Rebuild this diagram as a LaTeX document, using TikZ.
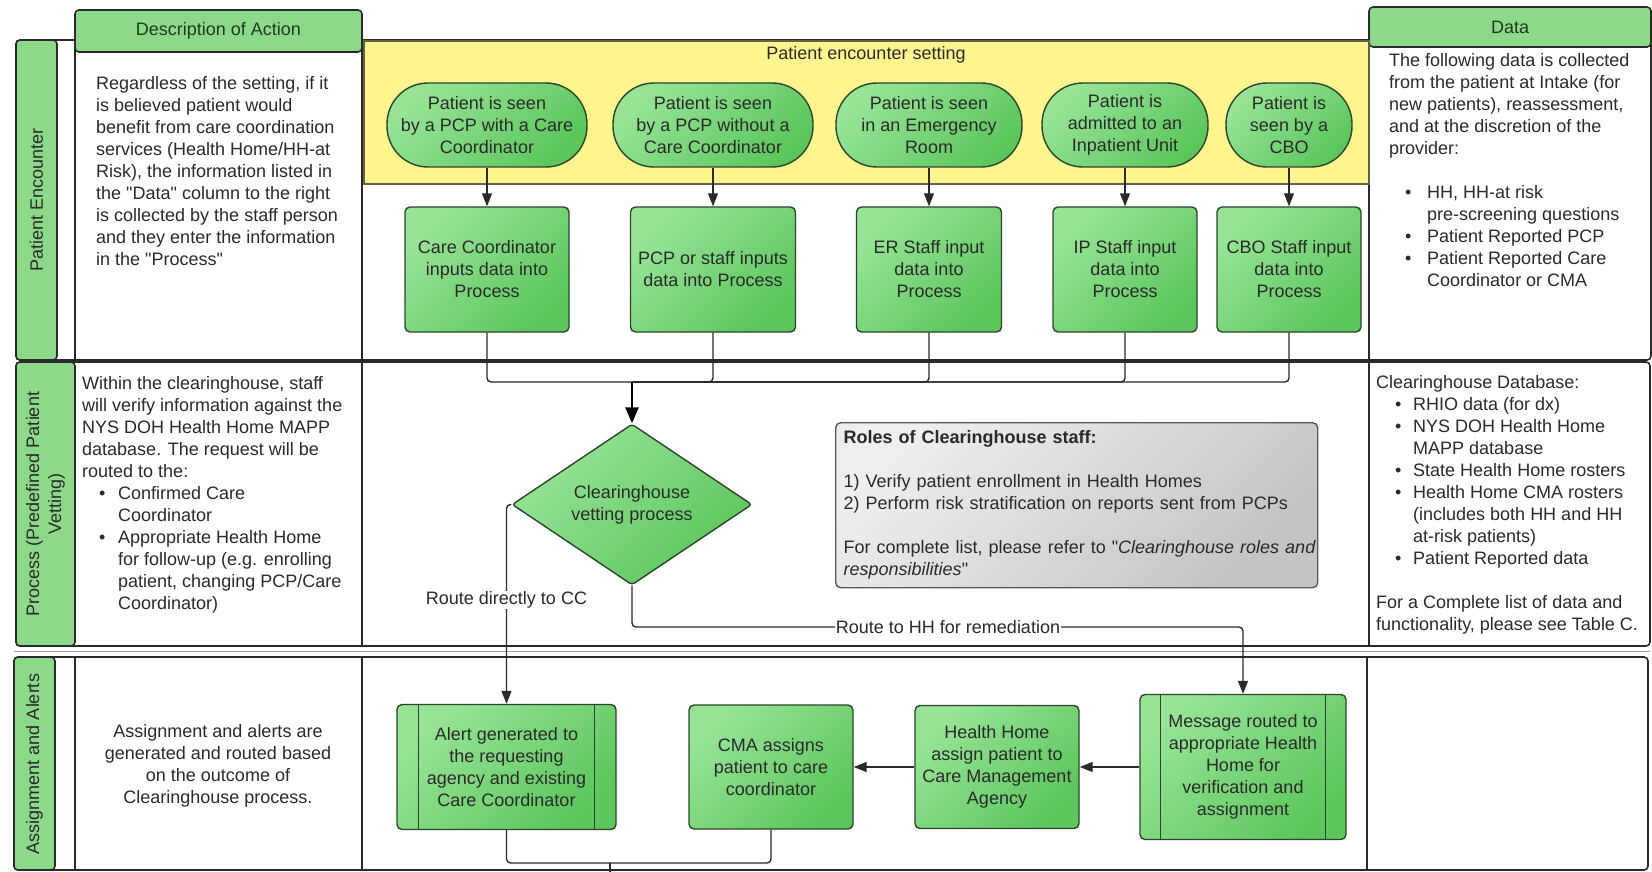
\documentclass[tikz,border=0pt]{standalone}
\usepackage{fontspec}
\setmainfont{Liberation Sans}[Ligatures=TeXOff]
\usetikzlibrary{arrows.meta,shapes.geometric,calc}
\definecolor{gnLight}{HTML}{97E497}
\definecolor{gnDark}{HTML}{5CC65C}
\definecolor{gnBorder}{HTML}{2C452C}
\definecolor{laneGreen}{HTML}{8CD98A}
\definecolor{yelFill}{HTML}{FFF58E}
\definecolor{grayL}{HTML}{EEEEEE}
\definecolor{grayD}{HTML}{C4C4C4}
\definecolor{txtC}{HTML}{2A2A2A}
\definecolor{lineC}{HTML}{2A2A2A}
\definecolor{sepC}{HTML}{9A9A9A}
\definecolor{hdrTxt}{HTML}{1F3A1F}
\newcommand{\qq}{\symbol{34}}
\tikzset{
  base/.style={font=\fontsize{18}{22}\selectfont, text=txtC},
  gnode/.style={base, draw=gnBorder, line width=1.4pt, top color=gnLight, bottom color=gnDark, shading angle=45, rounded corners=5pt, inner sep=0pt, align=center},
  pill/.style={gnode, rounded corners=41pt, minimum height=84pt},
  procbox/.style={gnode, minimum height=125pt, minimum width=#1},
  decision/.style={gnode, diamond, aspect=1.5, rounded corners=3pt, minimum width=240pt, minimum height=161pt},
  rolesbox/.style={base, draw=black!65, line width=1.4pt, top color=grayL, bottom color=grayD, shading angle=45, rounded corners=5pt, align=left, text width=466pt, inner xsep=8pt, inner ysep=0pt, minimum height=165pt, anchor=north west},
  conn/.style={draw=lineC, line width=1.4pt, rounded corners=4pt},
  arr/.style={draw=lineC, line width=1.4pt, -{Triangle[length=13pt,width=10pt]}},
  arrc/.style={arr, rounded corners=4pt},
  bigarr/.style={draw=black, line width=2.6pt, -{Triangle[length=16pt,width=13pt]}},
  lbl/.style={base, fill=white, inner sep=1pt},
  desc/.style={base, align=left, inner sep=0pt, anchor=north west},
  lanebox/.style={draw=lineC, line width=1.6pt, rounded corners=4pt},
  strip/.style={draw=lineC, line width=1.6pt, fill=laneGreen, rounded corners=4pt},
  striplbl/.style={base, rotate=90, align=center},
  colhead/.style={base, text=hdrTxt, draw=lineC, line width=1.6pt, fill=laneGreen, rounded corners=4pt, inner sep=0pt},
  colline/.style={draw=lineC, line width=1.4pt},
  yelbox/.style={draw=black!70!yellow, line width=1.6pt, fill=yelFill},
  bar/.style={draw=gnBorder, line width=1.4pt},
}
\begin{document}
\begin{tikzpicture}[x=1pt,y=-1pt]
\useasboundingbox (0,0) rectangle (1652,872);
\fill[white] (0,0) rectangle (1652,872);

% ---------- lanes ----------
\draw[lanebox] (16,40) rectangle (1651,360);
\draw[strip] (16,40) rectangle (57,360);
\draw[colline] (75,40) -- (75,360);
\draw[colline] (362,40) -- (362,360);
\draw[colline] (1369,40) -- (1369,360);
\node[striplbl] (lane1lbl) at (36.5,200) {Patient Encounter};

\draw[lanebox] (16,362) rectangle (1650,646);
\draw[strip] (16,362) rectangle (75,646);
\draw[colline] (362,362) -- (362,646);
\draw[colline] (1369,362) -- (1369,646);
\node[striplbl] (lane2lbl) at (45.5,504) {Process (Predefined Patient\\Vetting)};

\draw[sepC, line width=1pt] (14,651.5) -- (1650,651.5);

\draw[lanebox] (14,657) rectangle (1648,870);
\draw[strip] (14,657) rectangle (55,870);
\draw[colline] (75,657) -- (75,870);
\draw[colline] (362,657) -- (362,870);
\draw[colline] (1367,657) -- (1367,870);
\node[striplbl] (lane3lbl) at (34.5,764) {Assignment and Alerts};

% ---------- column headers ----------
\node[colhead, minimum width=287pt, minimum height=42pt] (hdesc) at (218.5,31) {Description of Action};
\node[colhead, minimum width=282pt, minimum height=40pt] (hdata) at (1510,27) {Data};

% ---------- yellow setting ----------
\draw[yelbox] (364,41) rectangle (1369,184);
\node[base] (settitle) at (866,55) {Patient encounter setting};

% ---------- pills ----------
\node[pill, minimum width=200pt] (p1) at (487,125) {Patient is seen\\by a PCP with a Care\\Coordinator};
\node[pill, minimum width=200pt] (p2) at (713,125) {Patient is seen\\by a PCP without a\\Care Coordinator};
\node[pill, minimum width=186pt] (p3) at (929,125) {Patient is seen\\in an Emergency\\Room};
\node[pill, minimum width=166pt] (p4) at (1125,125) {Patient is\\admitted to an\\Inpatient Unit};
\node[pill, minimum width=126pt] (p5) at (1289,125) {Patient is\\seen by a\\CBO};

% ---------- input boxes ----------
\node[procbox=164pt] (r1) at (487,269.5) {Care Coordinator\\inputs data into\\Process};
\node[procbox=165pt] (r2) at (713,269.5) {PCP or staff inputs\\data into Process};
\node[procbox=145pt] (r3) at (929,269.5) {ER Staff input\\data into\\Process};
\node[procbox=144pt] (r4) at (1125,269.5) {IP Staff input\\data into\\Process};
\node[procbox=144pt] (r5) at (1289,269.5) {CBO Staff input\\data into\\Process};

\foreach \i in {1,...,5} {\draw[arr] (p\i.south) -- (r\i.north);}

% ---------- decision ----------
\node[decision] (dia) at (632,504.5) {Clearinghouse\\vetting process};
\coordinate (J) at (632,382);
\foreach \i in {1,...,5} {\draw[conn] (r\i.south) |- (J);}
\draw[bigarr] (J) -- (dia.north);

% ---------- roles box ----------
\node[rolesbox] (roles) at (835,422) {\textbf{Roles of Clearinghouse staff:}\\[22pt]1) Verify patient enrollment in Health Homes\\2) Perform risk stratification on reports sent from PCPs\\[22pt]\mbox{For complete list, please refer to \qq\textit{Clearinghouse roles and}}\\\textit{responsibilities}\qq};

% ---------- description texts ----------
\node[desc] (desc1) at (96,76) {Regardless of the setting, if it\\is believed patient would\\benefit from care coordination\\services (Health Home/HH-at\\Risk), the information listed in\\the \qq Data\qq{} column to the right\\is collected by the staff person\\and they enter the information\\in the \qq Process\qq};

\node[desc] (desc2) at (82,376) {Within the clearinghouse, staff\\will verify information against the\\NYS DOH Health Home MAPP\\database. The request will be\\routed to the:\\\hspace*{17pt}\makebox[19pt][l]{•}Confirmed Care\\\hspace*{36pt}Coordinator\\\hspace*{17pt}\makebox[19pt][l]{•}Appropriate Health Home\\\hspace*{36pt}for follow-up (e.g. enrolling\\\hspace*{36pt}patient, changing PCP/Care\\\hspace*{36pt}Coordinator)};

\node[base, align=center, inner sep=0pt] (desc3) at (218,766) {Assignment and alerts are\\generated and routed based\\on the outcome of\\Clearinghouse process.};

% ---------- data texts ----------
\node[desc] (data1) at (1389,53) {The following data is collected\\from the patient at Intake (for\\new patients), reassessment,\\and at the discretion of the\\provider:\\[22pt]\hspace*{16pt}\makebox[22pt][l]{•}HH, HH-at risk\\\hspace*{38pt}pre-screening questions\\\hspace*{16pt}\makebox[22pt][l]{•}Patient Reported PCP\\\hspace*{16pt}\makebox[22pt][l]{•}Patient Reported Care\\\hspace*{38pt}Coordinator or CMA};

\node[desc] (data2) at (1376,375) {Clearinghouse Database:\\\hspace*{19pt}\makebox[18pt][l]{•}RHIO data (for dx)\\\hspace*{19pt}\makebox[18pt][l]{•}NYS DOH Health Home\\\hspace*{37pt}MAPP database\\\hspace*{19pt}\makebox[18pt][l]{•}State Health Home rosters\\\hspace*{19pt}\makebox[18pt][l]{•}Health Home CMA rosters\\\hspace*{37pt}(includes both HH and HH\\\hspace*{37pt}at-risk patients)\\\hspace*{19pt}\makebox[18pt][l]{•}Patient Reported data\\[22pt]For a Complete list of data and\\functionality, please see Table C.};

% ---------- assignment lane ----------
\node[gnode, minimum width=219pt, minimum height=125pt] (alert) at (506.5,767) {Alert generated to\\the requesting\\agency and existing\\Care Coordinator};
\draw[bar] ([xshift=22pt]alert.north west) -- ([xshift=22pt]alert.south west);
\draw[bar] ([xshift=-22pt]alert.north east) -- ([xshift=-22pt]alert.south east);

\node[gnode, minimum width=164pt, minimum height=124pt] (cma) at (771,767) {CMA assigns\\patient to care\\coordinator};
\node[gnode, minimum width=164pt, minimum height=123pt] (hh) at (997,767) {Health Home\\assign patient to\\Care Management\\Agency};
\node[gnode, minimum width=206pt, minimum height=145pt] (msg) at (1243,767) {Message routed to\\appropriate Health\\Home for\\verification and\\assignment};
\draw[bar] ([xshift=21pt]msg.north west) -- ([xshift=21pt]msg.south west);
\draw[bar] ([xshift=-21pt]msg.north east) -- ([xshift=-21pt]msg.south east);

\draw[arr] (msg.west) -- (hh.east);
\draw[arr] (hh.west) -- (cma.east);

% ---------- routes from decision ----------
\draw[arrc] (dia.west) -| (alert.north);
\node[lbl] (lblcc) at (506.5,600) {Route directly to CC};

\coordinate (rm) at (948,627);
\draw[arrc] (dia.south) |- (rm) -| (msg.north);
\node[lbl] (lblhh) at (rm) {Route to HH for remediation};

% ---------- bottom merge ----------
\coordinate (bj) at (610,863);
\coordinate (bend) at (610,872);
\draw[conn] (alert.south) |- (bj);
\draw[conn] (cma.south) |- (bj);
\draw[conn] (bj) -- (bend);
\end{tikzpicture}
\end{document}
